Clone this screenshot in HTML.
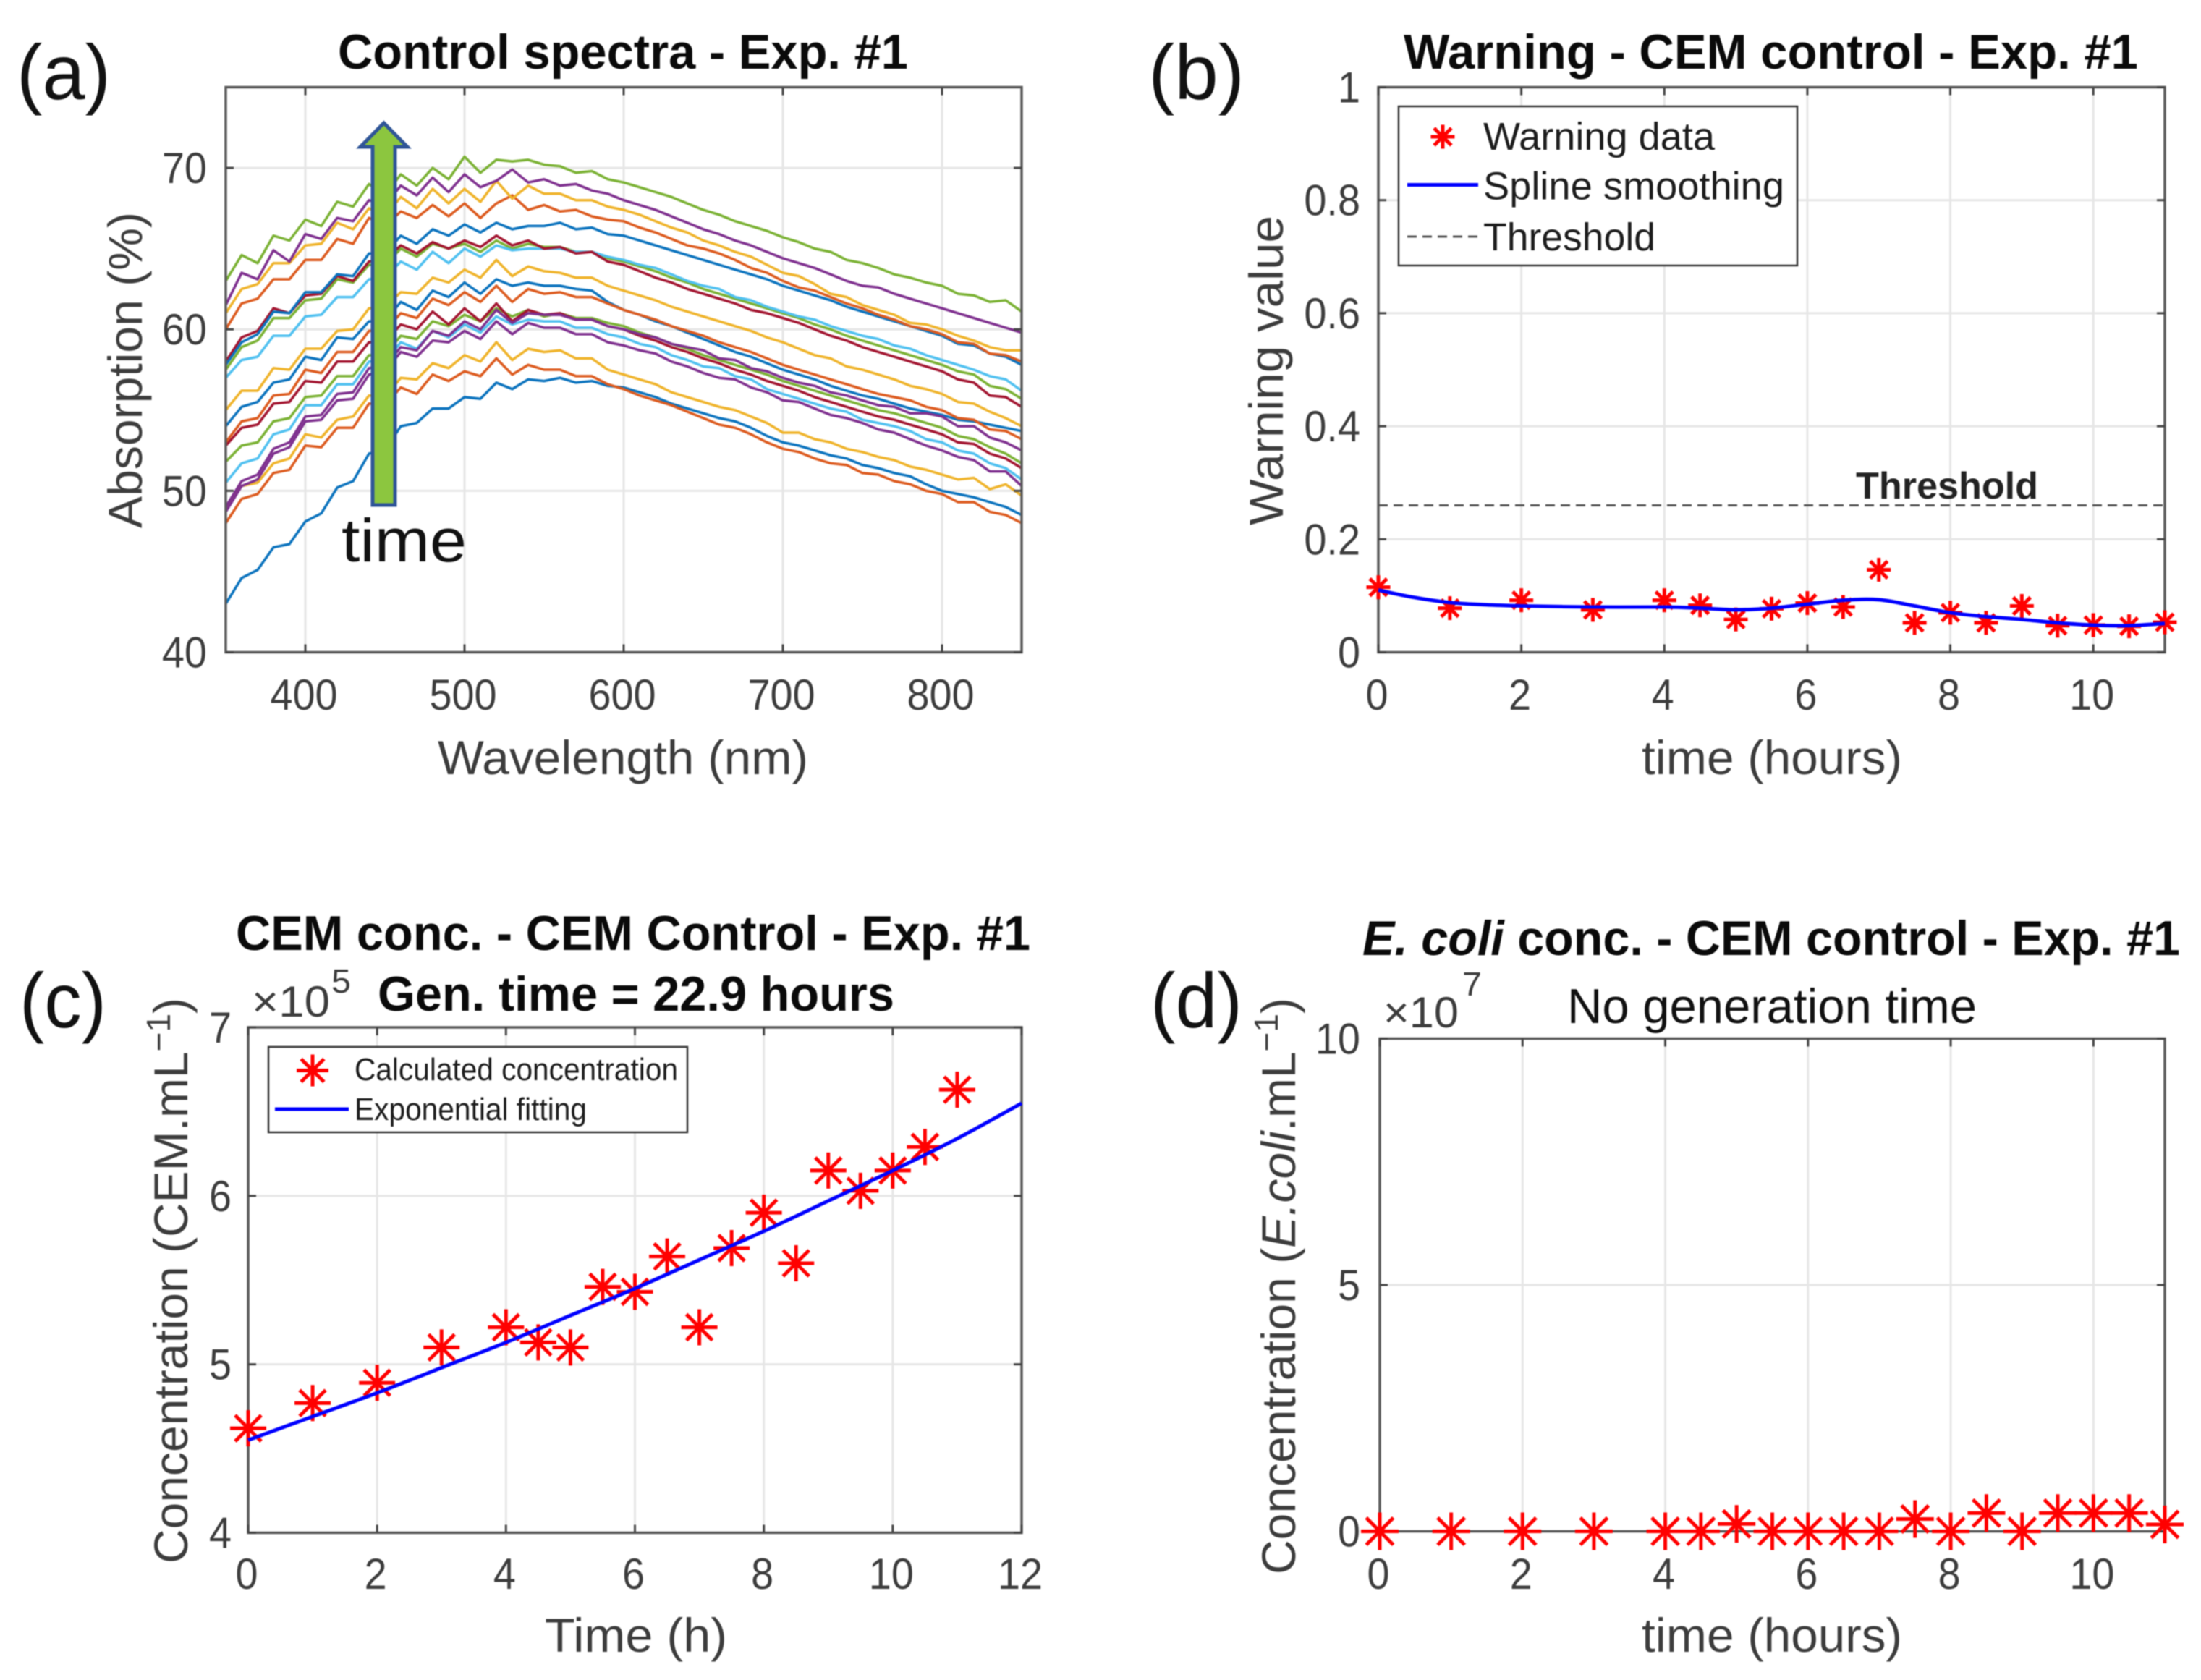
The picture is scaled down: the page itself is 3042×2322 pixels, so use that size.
<!DOCTYPE html>
<html lang="en">
<head>
<meta charset="utf-8">
<title>Control spectra, warning and concentration panels</title>
<style>
  html, body { margin: 0; padding: 0; background: #fff; }
  body { width: 3042px; height: 2322px; overflow: hidden; }
  svg { display: block; filter: blur(0.8px); font-family: "Liberation Sans", sans-serif; }
  .title { font-size: 68px; font-weight: 700; fill: #0a0a0a; }
  .sub { font-size: 68px; fill: #111; }
  .panel { font-size: 108px; fill: #111; }
  .axt { font-size: 66px; fill: #3c3c3c; }
  .tick { font-size: 60px; fill: #3c3c3c; }
  .leg { font-size: 54px; fill: #1c1c1c; }
  .legs { font-size: 44px; fill: #1c1c1c; }
</style>
</head>
<body>
<svg id="figure" xmlns="http://www.w3.org/2000/svg" width="3042" height="2322" viewBox="0 0 3042 2322">
  <rect x="0" y="0" width="3042" height="2322" fill="#fff"/>

  <g id="panel-a">
    <g id="a-plot"></g>
    <polygon points="530.5,170 563,203 546,203 546,698 515,698 515,203 498,203" fill="#8CC63F" stroke="#2F5597" stroke-width="5"/>
    <text x="472" y="776" font-size="84" fill="#111" textLength="173" lengthAdjust="spacingAndGlyphs">time</text>
    <text class="panel" x="23" y="137" textLength="130" lengthAdjust="spacingAndGlyphs">(a)</text>
    <text class="title" x="467" y="95" textLength="788" lengthAdjust="spacingAndGlyphs">Control spectra - Exp. #1</text>
    <text class="axt" x="605" y="1070" textLength="512" lengthAdjust="spacingAndGlyphs">Wavelength (nm)</text>
    <text class="axt" transform="translate(196,730) rotate(-90)" textLength="437" lengthAdjust="spacingAndGlyphs">Absorption (%)</text>
  </g>

  <g id="panel-b">
    <g id="b-plot"></g>
    <text x="2565" y="689" font-size="52" font-weight="700" fill="#222" textLength="252" lengthAdjust="spacingAndGlyphs">Threshold</text>
    <g id="b-legend">
      <rect x="1933" y="147" width="551" height="220" fill="#fff" stroke="#333" stroke-width="2.5"/>
      <line x1="1945" y1="255.5" x2="2043" y2="255.5" stroke="#0000ff" stroke-width="5"/>
      <line x1="1945" y1="327" x2="2043" y2="327" stroke="#555" stroke-width="3" stroke-dasharray="13 8"/>
      <text class="leg" x="2050" y="207" textLength="320" lengthAdjust="spacingAndGlyphs">Warning data</text>
      <text class="leg" x="2050" y="275.5" textLength="416" lengthAdjust="spacingAndGlyphs">Spline smoothing</text>
      <text class="leg" x="2050" y="346" textLength="238" lengthAdjust="spacingAndGlyphs">Threshold</text>
    </g>
    <text class="panel" x="1587" y="137" textLength="133" lengthAdjust="spacingAndGlyphs">(b)</text>
    <text class="title" x="1940" y="95" textLength="1015" lengthAdjust="spacingAndGlyphs">Warning - CEM control - Exp. #1</text>
    <text class="axt" x="2269" y="1070" textLength="360" lengthAdjust="spacingAndGlyphs">time (hours)</text>
    <text class="axt" transform="translate(1773,726) rotate(-90)" textLength="428" lengthAdjust="spacingAndGlyphs">Warning value</text>
  </g>

  <g id="panel-c">
    <g id="c-plot"></g>
    <g id="c-legend">
      <rect x="371" y="1447" width="579" height="118" fill="#fff" stroke="#333" stroke-width="2.5"/>
      <line x1="380" y1="1533" x2="482" y2="1533" stroke="#0000ff" stroke-width="5"/>
      <text class="legs" x="490" y="1493" textLength="447" lengthAdjust="spacingAndGlyphs">Calculated concentration</text>
      <text class="legs" x="490" y="1548" textLength="321" lengthAdjust="spacingAndGlyphs">Exponential fitting</text>
    </g>
    <text class="panel" x="27" y="1420" textLength="120" lengthAdjust="spacingAndGlyphs">(c)</text>
    <text class="title" x="326" y="1313" textLength="1098" lengthAdjust="spacingAndGlyphs">CEM conc. - CEM Control - Exp. #1</text>
    <text class="title" x="522" y="1397" textLength="714" lengthAdjust="spacingAndGlyphs">Gen. time = 22.9 hours</text>
    <text class="tick" x="348" y="1405" textLength="108" lengthAdjust="spacingAndGlyphs">×10</text>
    <text class="tick" x="458" y="1372" style="font-size:46px" textLength="27" lengthAdjust="spacingAndGlyphs">5</text>
    <text class="axt" x="753" y="2283" textLength="252" lengthAdjust="spacingAndGlyphs">Time (h)</text>
    <text class="axt" transform="translate(259,2161) rotate(-90)" textLength="782" lengthAdjust="spacingAndGlyphs">Concentration (CEM.mL<tspan dy="-24" style="font-size:46px">−1</tspan><tspan dy="24">)</tspan></text>
  </g>

  <g id="panel-d">
    <g id="d-plot"></g>
    <text class="panel" x="1590" y="1420" textLength="127" lengthAdjust="spacingAndGlyphs">(d)</text>
    <text class="title" x="1883" y="1320" textLength="1130" lengthAdjust="spacingAndGlyphs"><tspan font-style="italic">E. coli</tspan> conc. - CEM control - Exp. #1</text>
    <text class="sub" x="2166" y="1414" textLength="566" lengthAdjust="spacingAndGlyphs">No generation time</text>
    <text class="tick" x="1912" y="1420" textLength="104" lengthAdjust="spacingAndGlyphs">×10</text>
    <text class="tick" x="2021" y="1376" style="font-size:46px" textLength="27" lengthAdjust="spacingAndGlyphs">7</text>
    <text class="axt" x="2269" y="2283" textLength="360" lengthAdjust="spacingAndGlyphs">time (hours)</text>
    <text class="axt" transform="translate(1790,2176) rotate(-90)" textLength="797" lengthAdjust="spacingAndGlyphs">Concentration (<tspan font-style="italic">E.coli</tspan>.mL<tspan dy="-24" style="font-size:46px">−1</tspan><tspan dy="24">)</tspan></text>
  </g>
</svg>

<script>
// ---- Panel (a): absorption spectra, one reading per 10 nm from 350 nm ----
const wavelengthStart = 350;
const wavelengthStep = 10;
const spectrum01 = [43.0,44.6,45.1,46.5,46.7,48.1,48.6,50.2,50.6,52.3,52.5,54.0,54.2,55.1,55.1,55.8,55.7,56.7,56.3,56.9,56.8,57.0,56.7,56.8,56.5,56.4,56.1,55.8,55.4,55.1,54.8,54.5,54.3,53.9,53.4,53.0,52.8,52.5,52.2,52.0,51.6,51.4,51.1,50.9,50.4,50.0,49.8,49.6,49.3,49.0,48.5];
const spectrum02 = [48.0,49.5,49.8,51.1,51.3,52.8,52.7,53.9,53.9,55.4,55.3,56.4,56.0,57.2,56.8,57.4,57.1,58.2,57.2,57.8,57.5,57.5,57.1,57.1,56.6,56.3,55.9,55.6,55.3,54.9,54.5,54.1,53.9,53.5,53.0,52.6,52.4,52.0,51.7,51.6,51.1,51.0,50.6,50.4,50.0,49.8,49.3,49.3,48.7,48.5,48.0];
const spectrum03 = [49.0,50.3,50.5,51.7,52.0,53.5,53.3,54.4,54.6,55.9,55.8,57.0,56.9,57.9,57.6,58.4,58.0,59.2,58.1,58.8,58.6,58.7,58.2,58.2,57.5,57.2,56.9,56.6,56.1,55.8,55.5,55.2,55.0,54.6,54.2,53.6,53.6,53.2,53.0,52.6,52.4,52.1,51.9,51.5,51.3,51.0,50.7,50.8,50.1,50.4,49.7];
const spectrum04 = [48.7,50.3,50.7,52.3,52.7,54.3,54.4,55.6,55.7,57.2,57.4,58.6,58.3,59.3,59.2,59.9,59.4,60.5,59.7,60.4,60.1,60.1,59.7,59.7,59.2,59.0,58.7,58.5,58.0,57.7,57.3,57.0,56.9,56.4,56.1,55.6,55.5,55.1,54.7,54.5,54.2,53.8,53.6,53.2,52.8,52.5,52.1,51.9,51.2,51.2,50.3];
const spectrum05 = [51.8,52.8,53.0,54.3,54.5,55.8,55.9,57.1,57.1,58.4,58.4,59.6,59.4,60.5,60.2,60.9,60.5,61.3,60.8,61.2,60.8,61.0,60.7,60.7,60.4,60.2,59.8,59.5,59.1,58.8,58.4,58.1,57.8,57.5,57.2,56.8,56.5,56.2,55.9,55.6,55.3,55.0,54.8,54.5,54.2,53.9,53.4,53.2,52.7,52.3,51.7];
const spectrum06 = [50.5,51.7,52.0,53.5,53.8,55.3,55.3,56.6,56.6,58.0,58.0,59.2,58.8,59.9,59.5,60.3,59.8,60.8,60.3,60.6,60.5,60.5,60.1,60.1,59.7,59.5,59.1,58.9,58.4,58.1,57.7,57.6,57.1,56.9,56.3,56.0,55.7,55.4,55.1,54.9,54.4,54.2,54.0,53.7,53.2,53.0,52.5,52.3,51.7,51.4,50.7];
const spectrum07 = [52.8,53.9,54.1,55.4,55.5,56.8,56.7,58.0,58.0,59.2,59.2,60.3,60.0,61.1,60.3,61.3,60.5,61.6,60.5,61.2,60.9,61.0,60.6,60.6,60.2,60.0,59.6,59.3,58.9,58.6,58.2,57.9,57.5,57.2,56.8,56.5,56.2,55.8,55.5,55.2,54.9,54.6,54.4,54.1,53.8,53.5,53.0,52.9,52.3,52.0,51.4];
const spectrum08 = [54.0,55.2,55.5,56.7,56.9,58.3,58.1,59.5,59.4,60.5,60.5,61.7,61.2,62.4,62.0,62.9,62.2,63.1,62.7,62.9,62.7,62.7,62.5,62.4,61.7,61.2,60.9,60.5,60.2,59.8,59.4,59.0,58.6,58.3,57.9,57.5,57.2,56.9,56.5,56.2,55.9,55.7,55.4,55.1,54.9,54.7,54.4,54.3,54.1,53.9,53.7];
const spectrum09 = [53.0,54.3,54.5,55.9,56.0,57.5,57.3,58.6,58.6,59.9,59.9,61.0,60.7,61.9,61.5,62.3,61.7,62.7,61.7,62.5,62.2,62.3,62.0,62.0,61.6,61.2,60.9,60.6,60.2,59.9,59.6,59.2,58.9,58.6,58.2,57.8,57.5,57.2,56.9,56.6,56.3,56.0,55.8,55.6,55.2,55.0,54.5,54.4,53.8,53.7,53.2];
const spectrum10 = [55.0,56.2,56.2,57.6,57.5,58.8,58.8,59.9,60.0,61.3,61.4,62.3,62.2,63.2,62.9,63.7,63.2,64.3,63.3,63.9,63.6,63.5,63.2,63.2,62.7,62.4,62.1,61.8,61.4,61.1,60.8,60.5,60.2,59.9,59.5,59.2,58.8,58.4,58.2,57.7,57.5,57.2,56.9,56.5,56.3,56.0,55.5,55.4,54.9,54.5,54.0];
const spectrum11 = [49.0,50.6,51.0,52.6,53.0,54.6,54.7,56.0,56.1,57.6,57.7,58.9,58.7,59.9,59.6,60.5,60.0,61.2,60.4,61.0,60.9,60.9,60.6,60.6,60.2,60.0,59.7,59.5,59.1,58.9,58.7,58.2,58.1,57.6,57.4,57.0,56.7,56.5,56.1,55.9,55.6,55.3,55.2,54.8,54.8,54.6,54.0,54.0,53.3,53.0,52.5];
const spectrum12 = [57.5,58.9,59.3,60.7,60.7,61.8,61.9,63.1,62.9,64.0,64.0,65.0,64.5,65.3,65.0,65.3,64.8,65.5,65.0,65.3,65.1,65.1,64.8,64.8,64.4,64.2,63.9,63.6,63.2,62.9,62.5,62.2,61.9,61.6,61.3,61.0,60.7,60.3,60.0,59.6,59.3,59.0,58.7,58.4,58.1,57.8,57.4,57.2,56.5,56.3,55.7];
const spectrum13 = [57.0,58.1,58.3,59.6,59.6,60.8,60.9,62.0,62.0,63.1,63.2,64.2,63.7,64.8,64.1,65.0,64.5,65.2,64.9,65.0,65.0,65.0,64.8,64.8,64.5,64.3,64.0,63.8,63.4,63.0,62.7,62.5,62.0,61.8,61.4,61.1,60.8,60.6,60.2,59.9,59.6,59.4,59.0,58.8,58.4,58.1,57.8,57.5,57.1,56.9,56.2];
const spectrum14 = [58.0,59.5,59.9,61.3,61.0,62.1,62.2,63.3,63.0,64.2,64.3,65.2,64.7,65.4,65.0,65.5,65.1,65.8,65.2,65.5,65.0,65.1,64.7,64.8,64.2,64.0,63.6,63.2,62.9,62.5,62.2,61.9,61.6,61.2,61.0,60.7,60.4,60.0,59.6,59.3,58.9,58.6,58.3,58.0,57.7,57.4,56.9,56.7,55.9,55.8,55.2];
const spectrum15 = [57.8,59.2,59.7,61.1,61.0,62.3,62.3,63.4,63.3,64.7,64.7,65.8,65.3,66.2,65.8,66.5,66.0,66.6,66.2,66.4,66.4,66.6,66.2,66.3,65.9,65.8,65.5,65.2,64.9,64.6,64.3,64.0,63.7,63.4,63.1,62.7,62.4,62.1,61.8,61.4,61.1,60.8,60.5,60.2,59.9,59.6,59.1,59.0,58.5,58.3,57.8];
const spectrum16 = [60.0,61.6,61.9,63.1,63.1,64.3,64.3,65.6,65.3,66.9,66.4,67.3,66.9,67.7,67.0,67.8,66.9,67.8,68.3,67.4,67.7,67.3,67.4,67.0,66.8,66.7,66.3,66.0,65.6,65.2,65.0,64.7,64.3,63.8,63.5,63.0,62.6,62.4,62.0,61.6,61.3,60.9,60.6,60.2,60.0,59.7,59.2,59.1,58.5,58.4,58.0];
const spectrum17 = [61.0,62.5,62.8,64.1,64.1,65.2,65.3,66.6,66.2,67.5,67.0,68.2,67.5,68.7,67.8,68.7,67.9,69.2,68.1,68.9,68.4,68.4,68.0,68.0,67.6,67.4,67.1,66.7,66.3,66.0,65.5,65.2,64.8,64.5,64.0,63.5,63.3,62.8,62.2,62.0,61.5,61.2,60.9,60.4,60.3,60.0,59.6,59.3,58.9,58.7,58.7];
const spectrum18 = [61.5,63.5,63.1,64.9,64.2,65.9,65.6,66.9,66.7,68.0,67.7,68.9,68.3,69.4,68.5,69.6,68.8,69.2,69.9,69.1,69.3,68.9,69.0,68.6,68.4,68.0,67.7,67.4,67.0,66.6,66.2,65.9,65.5,65.2,64.8,64.4,64.1,63.8,63.4,63.0,62.7,62.6,62.2,61.9,61.6,61.3,61.0,60.7,60.4,60.1,59.8];
const spectrum19 = [63.0,64.6,64.1,65.8,65.5,66.8,66.4,67.9,67.6,69.0,68.3,69.6,68.9,70.0,69.3,70.7,69.7,70.5,70.4,70.5,70.2,70.1,69.7,69.8,69.3,69.1,68.8,68.5,68.2,67.8,67.4,67.1,66.7,66.4,66.1,65.7,65.4,65.0,64.8,64.3,64.1,63.8,63.4,63.2,62.9,62.7,62.2,62.1,61.7,61.8,61.1];
const spectraSeries = [spectrum01,spectrum02,spectrum03,spectrum04,spectrum05,spectrum06,spectrum07,spectrum08,spectrum09,spectrum10,spectrum11,spectrum12,spectrum13,spectrum14,spectrum15,spectrum16,spectrum17,spectrum18,spectrum19];
const aXTicks = [400,500,600,700,800];
const aYTicks = [40,50,60,70];

// ---- Shared sampling times (hours) ----
const sampleTimes = [0,1,2,3,4,4.5,5,5.5,6,6.5,7,7.5,8,8.5,9,9.5,10,10.5,11];

// ---- Panel (b): warning values ----
const warningValues = [0.115,0.078,0.092,0.075,0.092,0.083,0.058,0.077,0.087,0.080,0.146,0.052,0.070,0.052,0.082,0.047,0.048,0.046,0.053];
const splineTimes = [0,0.5,1,1.5,2,3,4,4.5,5,5.5,6,6.5,7,7.5,8,8.5,9,9.5,10,10.5,11];
const splineValues = [0.110,0.097,0.088,0.084,0.082,0.080,0.080,0.078,0.075,0.078,0.085,0.092,0.093,0.082,0.070,0.063,0.058,0.052,0.048,0.047,0.051];
const thresholdValue = [0.26];
const bXTicks = [0,2,4,6,8,10];
const bYTicks = [0,0.2,0.4,0.6,0.8,1];

// ---- Panel (c): CEM concentration (x 10^5) ----
const cemValues = [4.62,4.77,4.89,5.10,5.22,5.13,5.10,5.46,5.43,5.64,5.22,5.69,5.90,5.60,6.15,6.03,6.15,6.29,6.63];
const fitTimes = [0,1,2,3,4,5,6,7,8,9,10,11,12];
const fitValues = [4.55,4.69,4.83,4.98,5.13,5.29,5.45,5.62,5.79,5.97,6.15,6.34,6.55];
const cXTicks = [0,2,4,6,8,10,12];
const cYTicks = [4,5,6,7];

// ---- Panel (d): E. coli concentration (x 10^7) ----
const ecoliValues = [0,0,0,0,0,0,0.15,0,0,0,0,0.25,0,0.37,0,0.37,0.37,0.37,0.14];
const dXTicks = [0,2,4,6,8,10];
const dYTicks = [0,5,10];

const SVGNS = 'http://www.w3.org/2000/svg';
const lineColors = ['#0a72bd','#dc5a1e','#efb32a','#7e2f8e','#7ab133','#4fc0f0','#a2142f'];

function mk(tag, attrs, parent) {
  const el = document.createElementNS(SVGNS, tag);
  for (const k in attrs) el.setAttribute(k, attrs[k]);
  if (parent) parent.appendChild(el);
  return el;
}

function makeAxes(box, xDom, yDom) {
  return {
    box: box,
    x: v => box.l + (v - xDom[0]) / (xDom[1] - xDom[0]) * (box.r - box.l),
    y: v => box.b - (v - yDom[0]) / (yDom[1] - yDom[0]) * (box.b - box.t)
  };
}

function drawGrid(ax, xTicks, yTicks, parent) {
  const b = ax.box;
  xTicks.forEach(v => {
    const g = mk('line', {x1: ax.x(v), x2: ax.x(v), y1: b.t, y2: b.b, stroke: '#e6e6e6', 'stroke-width': 3}, parent);
    
    
  });
  yTicks.forEach(v => {
    const g = mk('line', {x1: b.l, x2: b.r, y1: ax.y(v), y2: ax.y(v), stroke: '#e6e6e6', 'stroke-width': 3}, parent);
    
    
  });
}

function condense(t) {
  t.setAttribute('textLength', (t.getComputedTextLength() * 0.93).toFixed(1));
  t.setAttribute('lengthAdjust', 'spacingAndGlyphs');
}

function drawFrame(ax, xTicks, yTicks, xBase, yRight, parent) {
  const b = ax.box;
  const frame = mk('rect', {x: b.l, y: b.t, width: b.r - b.l, height: b.b - b.t, fill: 'none', stroke: '#5a5a5a', 'stroke-width': 3.5}, parent);
  
  
  xTicks.forEach(v => {
    const px = ax.x(v);
    const m1 = mk('line', {x1: px, x2: px, y1: b.b, y2: b.b - 11, stroke: '#444', 'stroke-width': 3}, parent);
    
    
    const m2 = mk('line', {x1: px, x2: px, y1: b.t, y2: b.t + 11, stroke: '#444', 'stroke-width': 3}, parent);
    
    
    const t = mk('text', {class: 'tick', x: px - 2, y: xBase, 'text-anchor': 'middle'}, parent);
    t.textContent = String(v);
    
    
    condense(t);
  });
  yTicks.forEach(v => {
    const py = ax.y(v);
    const m1 = mk('line', {x1: b.l, x2: b.l + 11, y1: py, y2: py, stroke: '#444', 'stroke-width': 3}, parent);
    
    
    const m2 = mk('line', {x1: b.r, x2: b.r - 11, y1: py, y2: py, stroke: '#444', 'stroke-width': 3}, parent);
    
    
    const t = mk('text', {class: 'tick', x: yRight, y: py + 21, 'text-anchor': 'end'}, parent);
    t.textContent = String(v);
    
    
    condense(t);
  });
}

function asterisk(cx, cy, r, sw, parent) {
  const g = mk('g', {stroke: '#ff0000', 'stroke-width': sw, fill: 'none'}, parent);
  const d = r * 0.72;
  mk('line', {x1: cx - r, x2: cx + r, y1: cy, y2: cy}, g);
  mk('line', {x1: cx, x2: cx, y1: cy - r, y2: cy + r}, g);
  mk('line', {x1: cx - d, x2: cx + d, y1: cy - d, y2: cy + d}, g);
  mk('line', {x1: cx - d, x2: cx + d, y1: cy + d, y2: cy - d}, g);
  return g;
}

function smoothPath(xs, ys) {
  let d = 'M' + xs[0].toFixed(1) + ' ' + ys[0].toFixed(1);
  for (let i = 0; i < xs.length - 1; i++) {
    const x0 = xs[Math.max(i - 1, 0)], y0 = ys[Math.max(i - 1, 0)];
    const x3 = xs[Math.min(i + 2, xs.length - 1)], y3 = ys[Math.min(i + 2, xs.length - 1)];
    const c1x = xs[i] + (xs[i + 1] - x0) / 6, c1y = ys[i] + (ys[i + 1] - y0) / 6;
    const c2x = xs[i + 1] - (x3 - xs[i]) / 6, c2y = ys[i + 1] - (y3 - ys[i]) / 6;
    d += 'C' + c1x.toFixed(1) + ' ' + c1y.toFixed(1) + ' ' + c2x.toFixed(1) + ' ' + c2y.toFixed(1) + ' ' + xs[i + 1].toFixed(1) + ' ' + ys[i + 1].toFixed(1);
  }
  return d;
}

// ---------- Panel (a) ----------
(function () {
  const parent = document.getElementById('a-plot');
  const ax = makeAxes({l: 312, r: 1412, t: 120.5, b: 901.5}, [350, 850], [40, 75]);
  drawGrid(ax, aXTicks, aYTicks, parent);
  spectraSeries.forEach((series, i) => {
    const pts = series.map((v, j) => ax.x(wavelengthStart + j * wavelengthStep).toFixed(1) + ',' + ax.y(v).toFixed(1)).join(' ');
    const line = mk('polyline', {points: pts, fill: 'none', stroke: lineColors[i % lineColors.length], 'stroke-width': 3.5, 'stroke-linejoin': 'round'}, parent);
    
    
  });
  drawFrame(ax, aXTicks, aYTicks, 981, 286, parent);
})();

// ---------- Panel (b) ----------
(function () {
  const parent = document.getElementById('b-plot');
  const ax = makeAxes({l: 1905, r: 2992, t: 120.5, b: 901.5}, [0, 11], [0, 1]);
  drawGrid(ax, bXTicks, bYTicks, parent);
  drawFrame(ax, bXTicks, bYTicks, 981, 1880, parent);
  const th = mk('line', {x1: ax.box.l, x2: ax.box.r, y1: ax.y(thresholdValue[0]), y2: ax.y(thresholdValue[0]), stroke: '#555', 'stroke-width': 3, 'stroke-dasharray': '13 8'}, parent);
  
  
  sampleTimes.forEach((t, i) => {
    const m = asterisk(ax.x(t), ax.y(warningValues[i]), 16.5, 5, parent);
    
    
  });
  const spline = mk('path', {d: smoothPath(splineTimes.map(ax.x), splineValues.map(ax.y)), fill: 'none', stroke: '#0000ff', 'stroke-width': 5}, parent);
  
  
  const lm = asterisk(1994, 189, 16.5, 5, document.getElementById('b-legend'));
  
  
})();

// ---------- Panel (c) ----------
(function () {
  const parent = document.getElementById('c-plot');
  const ax = makeAxes({l: 343, r: 1412, t: 1420, b: 2118.5}, [0, 12], [4, 7]);
  drawGrid(ax, cXTicks, cYTicks, parent);
  drawFrame(ax, cXTicks, cYTicks, 2196, 320, parent);
  sampleTimes.forEach((t, i) => {
    const m = asterisk(ax.x(t), ax.y(cemValues[i]), 25, 5, parent);
    
    
  });
  const fit = mk('path', {d: smoothPath(fitTimes.map(ax.x), fitValues.map(ax.y)), fill: 'none', stroke: '#0000ff', 'stroke-width': 5}, parent);
  
  
  const lm = asterisk(432, 1479.5, 22, 5, document.getElementById('c-legend'));
  
  
})();

// ---------- Panel (d) ----------
(function () {
  const parent = document.getElementById('d-plot');
  const ax = makeAxes({l: 1907, r: 2992, t: 1435.5, b: 2116.5}, [0, 11], [0, 10]);
  drawGrid(ax, dXTicks, dYTicks, parent);
  drawFrame(ax, dXTicks, dYTicks, 2196, 1880, parent);
  sampleTimes.forEach((t, i) => {
    const m = asterisk(ax.x(t), ax.y(ecoliValues[i]), 26, 5, parent);
    
    
  });
})();
</script>
</body>
</html>
